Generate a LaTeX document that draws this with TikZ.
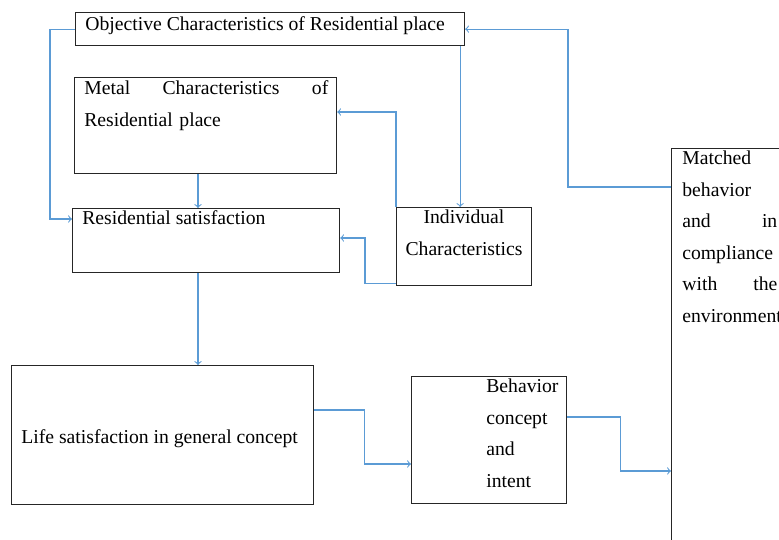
\documentclass[tikz,border=0pt]{standalone}
\usepackage{fontspec}
\setmainfont{Liberation Serif}
\usetikzlibrary{arrows}
\usetikzlibrary{calc}
\definecolor{linkblue}{RGB}{91,155,213}
\tikzset{
  box/.style={draw=black!85, line width=0.7pt, inner sep=0pt, anchor=north west},
  txt/.style={inner sep=0pt, anchor=base west, font=\fontsize{11.2}{17.9}\selectfont},
  link/.style={draw=linkblue, line width=0.6pt, ->, >=to}
}

\begin{document}
\begin{tikzpicture}[x=0.02cm, y=-0.02cm]
    \useasboundingbox (0,0) rectangle (779,540);

    \node [box, minimum width=7.78cm, minimum height=0.66cm] (objective) at (75,12) {};
    \node [box, minimum width=5.24cm, minimum height=1.92cm] (metal) at (74,77) {};
    \node [box, minimum width=5.34cm, minimum height=1.28cm] (ressat) at (72,208) {};
    \node [box, minimum width=2.70cm, minimum height=1.56cm] (indiv) at (396,207) {};
    \node [box, minimum width=2.80cm, minimum height=8.40cm] (matched) at (671,148) {};
    \node [box, minimum width=6.04cm, minimum height=2.78cm] (life) at (11,365) {};
    \node [box, minimum width=3.10cm, minimum height=2.54cm] (behav) at (411,376) {};

    \node [txt] (objectivetext) at (85,31) {Objective Characteristics of Residential place};
    \node [txt, text width=4.88cm, align=left] (metaltext) at (84,95) {Metal\hfill Characteristics\hfill of\\Residential place};
    \node [txt] (ressattext) at (82,225) {Residential satisfaction};
    \node [txt, anchor=base, text width=2.70cm, align=center] (indivtext) at (464,224) {Individual\\Characteristics};
    \node [txt, text width=1.90cm, align=left] (matchedtext) at (682,165) {Matched\\behavior\\and\hfill in\\compliance\\with\hfill the\\environment};
    \node [txt] (lifetext) at (21,444) {Life satisfaction in general concept};
    \node [txt, text width=1.60cm, align=left] (behavtext) at (486,393) {Behavior\\concept\\and\\intent};

    % arrows
    \draw [link] (objective.west) -- ++(-25,0) |- ($(ressat.north west)+(0,11)$);
    \draw [link] ($(objective.south east)+(-5,0)$) coordinate (objdown) -- (objdown |- indiv.north);
    \draw [link] ($(matched.north west)+(0,39)$) -- ++(-103,0) |- (objective.east);
    \draw [link] (indiv.north west) |- ($(metal.north east)+(0,35)$);
    \draw [link] ($(indiv.south west)+(0,-3)$) -- ++(-31,0) |- ($(ressat.north east)+(0,30)$);
    \draw [link] ($(metal.south west)+(124,0)$) coordinate (metaldown) -- (metaldown |- ressat.north);
    \draw [link] ($(ressat.south west)+(126,0)$) coordinate (resdown) -- (resdown |- life.north);
    \draw [link] ($(life.north east)+(0,45)$) -- ++(50,0) |- ($(behav.north west)+(0,88)$);
    \draw [link] ($(behav.north east)+(0,41)$) -- ++(53,0) |- ($(matched.north west)+(0,323)$);
\end{tikzpicture}
\end{document}
